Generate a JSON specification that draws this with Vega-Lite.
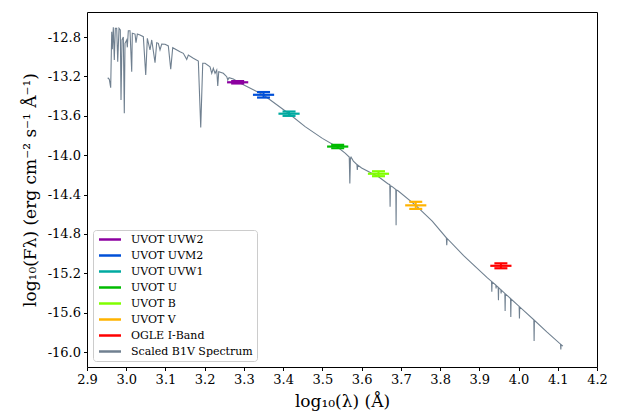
{
  "$schema": "https://vega.github.io/schema/vega-lite/v6.json",
  "width": 510,
  "height": 355,
  "autosize": {"type": "none"},
  "padding": {"left": 87, "top": 12, "right": 22, "bottom": 45},
  "background": "white",
  "config": {
    "font": "DejaVu Serif",
    "view": {"stroke": "black", "strokeWidth": 1},
    "axis": {
      "grid": false, "domain": false, "tickColor": "black", "tickSize": 3.5, "tickWidth": 1,
      "labelFont": "DejaVu Serif", "labelFontSize": 13, "labelColor": "black", "labelPadding": 3,
      "titleFont": "DejaVu Serif", "titleFontSize": 17, "titleFontWeight": "normal", "titleColor": "black",
      "labelFlush": false, "labelOverlap": false
    },
    "legend": {
      "labelFont": "DejaVu Serif", "labelFontSize": 11, "labelColor": "black",
      "symbolType": "M-1,0H5.28", "symbolStrokeWidth": 2.5, "symbolSize": 49,
      "labelOffset": 23, "rowPadding": 4,
      "fillColor": "white", "strokeColor": "#cccccc", "cornerRadius": 3, "padding": 4
    }
  },
  "datasets": {
    "spec": [
      {"x":2.9528,"y":-13.214},{"x":2.9569,"y":-13.230},{"x":2.9604,"y":-13.315},{"x":2.9630,"y":-12.746},
      {"x":2.9645,"y":-12.925},{"x":2.9671,"y":-12.701},{"x":2.9696,"y":-13.034},{"x":2.9722,"y":-12.712},
      {"x":2.9757,"y":-12.712},{"x":2.9783,"y":-13.051},{"x":2.9816,"y":-12.712},{"x":2.9849,"y":-12.729},
      {"x":2.9867,"y":-13.440},{"x":2.9892,"y":-12.830},{"x":2.9926,"y":-12.800},{"x":2.9951,"y":-13.575},
      {"x":2.9969,"y":-12.864},{"x":3.0012,"y":-12.830},{"x":3.0028,"y":-12.905},{"x":3.0053,"y":-12.736},
      {"x":3.0096,"y":-12.736},{"x":3.0140,"y":-13.153},{"x":3.0155,"y":-12.762},{"x":3.0224,"y":-12.770},
      {"x":3.0249,"y":-12.858},{"x":3.0283,"y":-12.770},{"x":3.0351,"y":-12.780},{"x":3.0436,"y":-12.797},
      {"x":3.0497,"y":-13.186},{"x":3.0538,"y":-12.813},{"x":3.0606,"y":-12.932},{"x":3.0650,"y":-12.830},
      {"x":3.0734,"y":-13.061},{"x":3.0777,"y":-12.858},{"x":3.0818,"y":-12.864},{"x":3.0861,"y":-12.932},
      {"x":3.0905,"y":-12.871},{"x":3.0989,"y":-12.874},{"x":3.1073,"y":-12.891},{"x":3.1134,"y":-13.128},
      {"x":3.1185,"y":-12.909},{"x":3.1371,"y":-12.949},{"x":3.1455,"y":-12.966},{"x":3.1542,"y":-13.027},
      {"x":3.1583,"y":-12.983},{"x":3.1710,"y":-13.016},{"x":3.1838,"y":-13.044},{"x":3.1899,"y":-13.718},
      {"x":3.1950,"y":-13.067},{"x":3.2009,"y":-13.067},{"x":3.2136,"y":-13.102},{"x":3.2180,"y":-13.169},
      {"x":3.2220,"y":-13.118},{"x":3.2264,"y":-13.169},{"x":3.2307,"y":-13.135},{"x":3.2333,"y":-13.298},
      {"x":3.2358,"y":-13.153},{"x":3.2475,"y":-13.169},{"x":3.2562,"y":-13.203},{"x":3.2588,"y":-13.237},
      {"x":3.2621,"y":-13.214},{"x":3.2730,"y":-13.227},{"x":3.2900,"y":-13.267},{"x":3.3500,"y":-13.389},
      {"x":3.4150,"y":-13.579},{"x":3.4560,"y":-13.710},{"x":3.5000,"y":-13.830},{"x":3.5390,"y":-13.920},
      {"x":3.5580,"y":-13.980},{"x":3.5685,"y":-14.020},{"x":3.5700,"y":-14.287},{"x":3.5715,"y":-14.030},
      {"x":3.5730,"y":-14.020},{"x":3.5790,"y":-14.060},{"x":3.5880,"y":-14.095},{"x":3.5890,"y":-14.150},
      {"x":3.5900,"y":-14.100},{"x":3.6000,"y":-14.130},{"x":3.6430,"y":-14.220},{"x":3.6670,"y":-14.290},
      {"x":3.6718,"y":-14.300},{"x":3.6726,"y":-14.525},{"x":3.6734,"y":-14.310},{"x":3.6780,"y":-14.320},
      {"x":3.6872,"y":-14.350},{"x":3.6879,"y":-14.711},{"x":3.6886,"y":-14.355},{"x":3.6920,"y":-14.360},
      {"x":3.7380,"y":-14.510},{"x":3.7800,"y":-14.670},{"x":3.8160,"y":-14.840},{"x":3.8170,"y":-14.914},
      {"x":3.8180,"y":-14.846},{"x":3.8600,"y":-15.020},{"x":3.8770,"y":-15.084},{"x":3.9200,"y":-15.245},
      {"x":3.9312,"y":-15.283},{"x":3.9319,"y":-15.388},{"x":3.9326,"y":-15.287},{"x":3.9421,"y":-15.320},
      {"x":3.9428,"y":-15.354},{"x":3.9435,"y":-15.325},{"x":3.9481,"y":-15.343},{"x":3.9488,"y":-15.473},
      {"x":3.9495,"y":-15.347},{"x":3.9549,"y":-15.367},{"x":3.9556,"y":-15.405},{"x":3.9563,"y":-15.372},
      {"x":3.9651,"y":-15.405},{"x":3.9658,"y":-15.582},{"x":3.9665,"y":-15.410},{"x":3.9796,"y":-15.457},
      {"x":3.9803,"y":-15.643},{"x":3.9810,"y":-15.462},{"x":4.0016,"y":-15.537},{"x":4.0023,"y":-15.659},
      {"x":4.0030,"y":-15.542},{"x":4.0390,"y":-15.672},{"x":4.0397,"y":-15.889},{"x":4.0404,"y":-15.677},
      {"x":4.0720,"y":-15.795},{"x":4.1071,"y":-15.920},{"x":4.1078,"y":-15.974},{"x":4.1085,"y":-15.925},
      {"x":4.1130,"y":-15.940}
    ],
    "phot": [
      {"band":"UVOT UVW2","x":3.284,"y":-13.260,"xlo":3.257,"xhi":3.311,"ylo":-13.272,"yhi":-13.248},
      {"band":"UVOT UVM2","x":3.350,"y":-13.387,"xlo":3.323,"xhi":3.377,"ylo":-13.415,"yhi":-13.359},
      {"band":"UVOT UVW1","x":3.415,"y":-13.579,"xlo":3.388,"xhi":3.442,"ylo":-13.601,"yhi":-13.557},
      {"band":"UVOT U","x":3.539,"y":-13.913,"xlo":3.512,"xhi":3.566,"ylo":-13.930,"yhi":-13.896},
      {"band":"UVOT B","x":3.643,"y":-14.189,"xlo":3.616,"xhi":3.670,"ylo":-14.214,"yhi":-14.164},
      {"band":"UVOT V","x":3.738,"y":-14.510,"xlo":3.711,"xhi":3.765,"ylo":-14.546,"yhi":-14.474},
      {"band":"OGLE I-Band","x":3.955,"y":-15.124,"xlo":3.928,"xhi":3.982,"ylo":-15.149,"yhi":-15.099}
    ]
  },
  "encoding": {
    "x": {"type": "quantitative", "scale": {"domain": [2.9, 4.2], "nice": false, "zero": false},
      "axis": {"title": "log₁₀(λ) (Å)", "values": [2.9,3.0,3.1,3.2,3.3,3.4,3.5,3.6,3.7,3.8,3.9,4.0,4.1,4.2], "format": ".1f", "titlePadding": 7}},
    "y": {"type": "quantitative", "scale": {"domain": [-16.152, -12.546], "nice": false, "zero": false},
      "axis": {"title": "log₁₀(Fλ) (erg cm⁻² s⁻¹ Å⁻¹)", "values": [-16.0,-15.6,-15.2,-14.8,-14.4,-14.0,-13.6,-13.2,-12.8],
        "labelExpr": "'-' + format(abs(datum.value), '.1f')", "titlePadding": 8}}
  },
  "resolve": {"scale": {"color": "shared"}},
  "layer": [
    {
      "data": {"name": "spec"},
      "mark": {"type": "line", "strokeWidth": 1.1, "clip": true},
      "encoding": {
        "x": {"field": "x", "type": "quantitative"},
        "y": {"field": "y", "type": "quantitative"},
        "color": {"datum": "Scaled B1V Spectrum", "type": "nominal",
          "scale": {"domain": ["UVOT UVW2","UVOT UVM2","UVOT UVW1","UVOT U","UVOT B","UVOT V","OGLE I-Band","Scaled B1V Spectrum"],
            "range": ["#8c00a0","#0050d8","#00aaa0","#00bb00","#80ff00","#ffb300","#ff0000","#708090"]},
          "legend": {"title": null, "orient": "bottom-left", "offset": 6}}
      }
    },
    {
      "data": {"name": "phot"},
      "mark": {"type": "rule", "strokeWidth": 2.2},
      "encoding": {
        "x": {"field": "xlo", "type": "quantitative"},
        "x2": {"field": "xhi"},
        "y": {"field": "y", "type": "quantitative"},
        "color": {"field": "band", "type": "nominal", "legend": {"title": null, "orient": "bottom-left", "offset": 6}}
      }
    },
    {
      "data": {"name": "phot"},
      "mark": {"type": "rule", "strokeWidth": 2},
      "encoding": {
        "x": {"field": "x", "type": "quantitative"},
        "y": {"field": "ylo", "type": "quantitative"},
        "y2": {"field": "yhi"},
        "color": {"field": "band", "type": "nominal", "legend": {"title": null, "orient": "bottom-left", "offset": 6}}
      }
    },
    {
      "data": {"name": "phot"},
      "mark": {"type": "tick", "orient": "horizontal", "size": 13, "thickness": 2.2, "opacity": 1},
      "encoding": {
        "x": {"field": "x", "type": "quantitative"},
        "y": {"field": "ylo", "type": "quantitative"},
        "color": {"field": "band", "type": "nominal", "legend": {"title": null, "orient": "bottom-left", "offset": 6}}
      }
    },
    {
      "data": {"name": "phot"},
      "mark": {"type": "tick", "orient": "horizontal", "size": 13, "thickness": 2.2, "opacity": 1},
      "encoding": {
        "x": {"field": "x", "type": "quantitative"},
        "y": {"field": "yhi", "type": "quantitative"},
        "color": {"field": "band", "type": "nominal", "legend": {"title": null, "orient": "bottom-left", "offset": 6}}
      }
    }
  ]
}
